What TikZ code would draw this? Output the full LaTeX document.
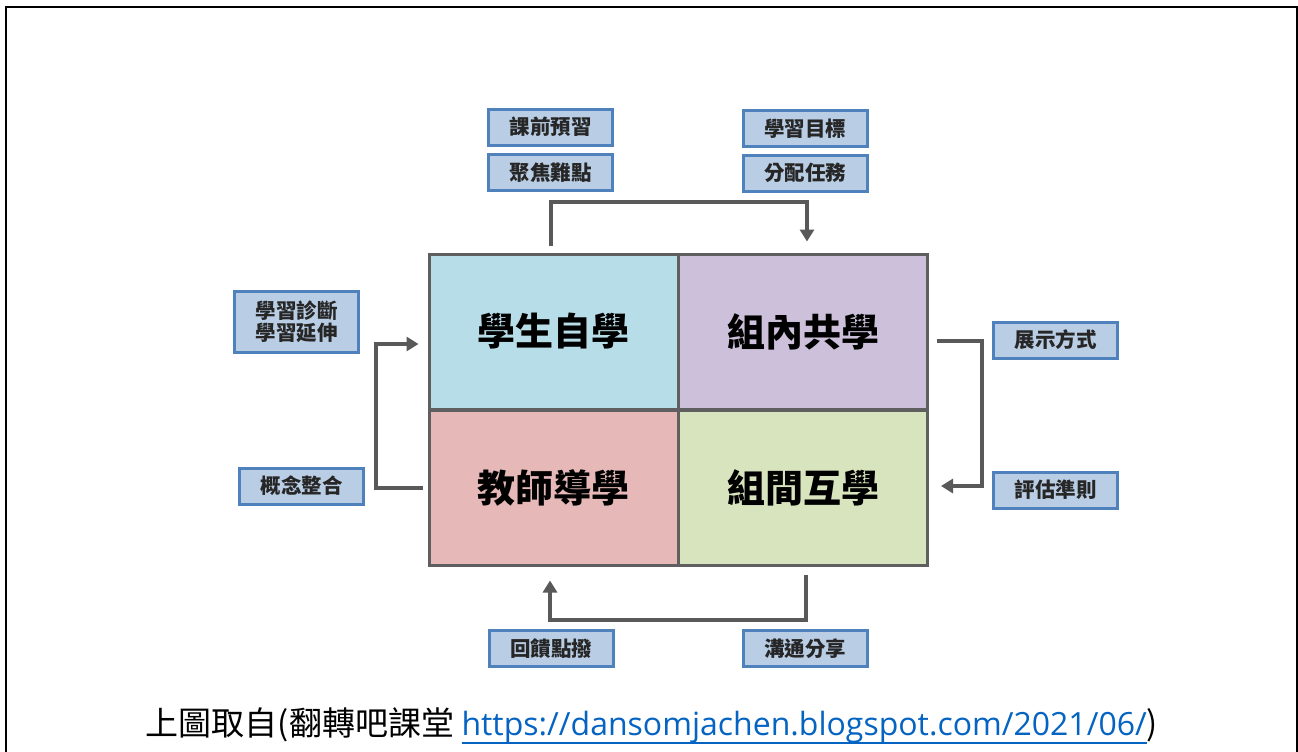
\documentclass[tikz,border=0pt]{standalone}
\usepackage{fontspec}
\setmainfont{Noto Sans CJK TC}
\newfontfamily\urlfont{Open Sans}
\usetikzlibrary{arrows.meta}
\definecolor{qa}{HTML}{B7DDE8}
\definecolor{qb}{HTML}{CCC0DA}
\definecolor{qc}{HTML}{E6B9B8}
\definecolor{qd}{HTML}{D7E4BD}
\definecolor{gridc}{HTML}{5F5F5F}
\definecolor{boxfill}{HTML}{B9CDE5}
\definecolor{boxline}{HTML}{4F81BD}
\definecolor{arrc}{HTML}{595959}
\definecolor{urlc}{HTML}{0563C1}
\newcommand\myuline[1]{\vtop{\hbox{#1}\kern-0.3pt\hrule height 0.8pt}}
\tikzset{
  quad/.style={draw=gridc, line width=1.5pt, minimum width=124.5pt, minimum height=77.5pt, inner sep=0pt,
    font=\fontsize{19}{22}\selectfont\bfseries},
  sbox/.style={draw=boxline, fill=boxfill, line width=1.5pt, minimum width=62pt, minimum height=18pt, inner sep=0pt,
    font=\fontsize{10.25}{11}\selectfont\bfseries, text=black!85},
  arr/.style={draw=arrc, line width=2pt, -{Triangle[length=6pt,width=7pt]}}
}
\begin{document}
\begin{tikzpicture}[x=0.5pt,y=-0.5pt]
\useasboundingbox (0,0) rectangle (1298,751);
\draw[line width=1pt] (6,760) -- (6,7) -- (1296.5,7) -- (1296.5,760);
% quadrants
\node[quad, fill=qa] (q1) at (553.5,331.5) {學生自學};
\node[quad, fill=qb] (q2) at (803,331.5) {組內共學};
\node[quad, fill=qc] (q3) at (553.5,487.5) {教師導學};
\node[quad, fill=qd] (q4) at (803,487.5) {組間互學};
% small boxes
\node[sbox] (b1) at (550.5,127) {課前預習};
\node[sbox] (b2) at (550.5,172.5) {聚焦難點};
\node[sbox] (b3) at (805,128.5) {學習目標};
\node[sbox] (b4) at (805,173) {分配任務};
\node[sbox, minimum height=30.5pt, align=center, font=\fontsize{10.25}{11}\selectfont\bfseries] (b5) at (296.5,322) {學習診斷\\學習延伸};
\node[sbox] (b6) at (301.5,486) {概念整合};
\node[sbox] (b7) at (1055.5,340) {展示方式};
\node[sbox] (b8) at (1055.5,490) {評估準則};
\node[sbox] (b9) at (551,648.5) {回饋點撥};
\node[sbox] (b10) at (805,648.5) {溝通分享};
% connectors
\draw[arr] ([xshift=-1.25pt,yshift=3.5pt]q1.north) -- ++(0,-44) -| ([xshift=2pt,yshift=5.5pt]q2.north);
\draw[arr] ([xshift=-2.5pt]q3.west) -- ++(-47,0) |- ([xshift=-4.5pt,yshift=-6.25pt]q1.west);
\draw[arr] ([xshift=4pt,yshift=-4.75pt]q2.east) -- ++(45,0) |- ([xshift=6pt,yshift=0.75pt]q4.east);
\draw[arr] ([xshift=1.25pt,yshift=-4pt]q4.south) -- ++(0,45) -| ([xshift=-1.75pt,yshift=-7pt]q3.south);
% caption
\node[anchor=base, inner sep=0pt, font=\fontsize{16.5}{18}\selectfont] (cap) at (652,735)
  {上圖取自(翻轉吧課堂 {\urlfont\fontsize{16}{18}\selectfont\color{urlc}\myuline{https://dansomjachen.blogspot.com/2021/06/}})};
\end{tikzpicture}
\end{document}
